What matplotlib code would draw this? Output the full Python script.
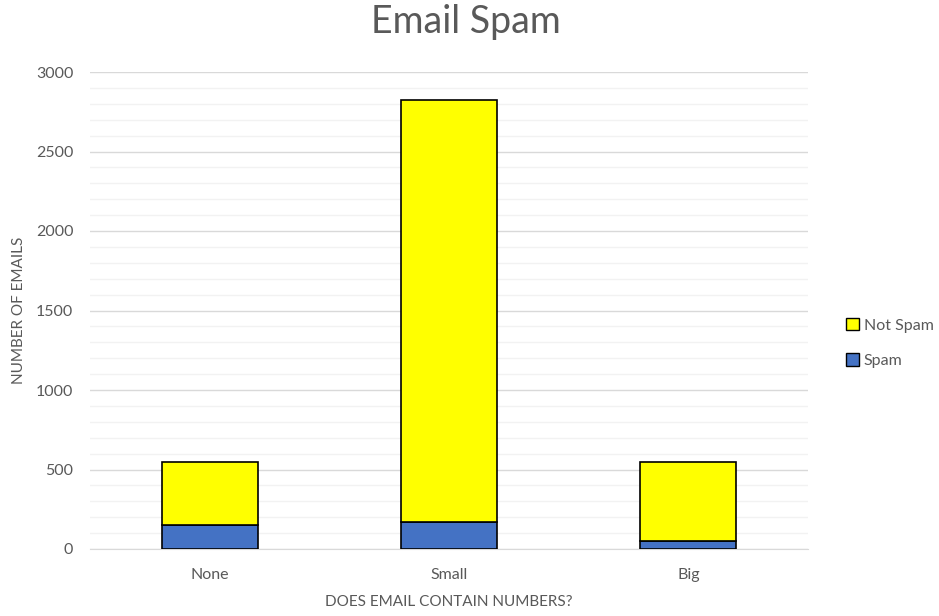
import matplotlib
matplotlib.use("Agg")
import matplotlib.pyplot as plt
from matplotlib.patches import Patch
import numpy as np

plt.rcParams['font.family'] = ['Lato', 'DejaVu Sans']

categories = ["None", "Small", "Big"]
spam = [149, 168, 50]
not_spam = [400, 2659, 495]
yticks = [0, 500, 1000, 1500, 2000, 2500, 3000]

fig = plt.figure(figsize=(9.39, 6.16), dpi=100)
ax = fig.add_axes([90/939, 1-549/616, (808-90)/939, (549-72)/616])

x = np.arange(len(categories))
w = 0.4
ax.bar(x, spam, width=w, color="#4472C4", edgecolor="black", linewidth=1.2, zorder=3, label="Spam")
ax.bar(x, not_spam, width=w, bottom=spam, color="#FFFF00", edgecolor="black", linewidth=1.2, zorder=3, label="Not Spam")

ax.set_xlim(-0.5, 2.5)
ax.set_ylim(0, 3000)
ax.set_yticks(yticks)
ax.set_yticks(np.arange(0, 3001, 100), minor=True)
ax.yaxis.grid(True, which="major", color="#D9D9D9", linewidth=1.0, zorder=0)
ax.yaxis.grid(True, which="minor", color="#F2F2F2", linewidth=1.0, zorder=0)
ax.set_xticks(x)
ax.set_xticklabels(categories)
ax.tick_params(axis="both", which="both", length=0, labelsize=11.5, labelcolor="#595959")
ax.tick_params(axis="x", pad=14)
ax.tick_params(axis="y", pad=12)
for s in ["top", "right", "left"]:
    ax.spines[s].set_visible(False)
ax.spines["bottom"].set_color("#D9D9D9")

ax.set_xlabel("DOES EMAIL CONTAIN NUMBERS?", fontsize=11, color="#595959", labelpad=9)
ax.set_ylabel("NUMBER OF EMAILS", fontsize=11, color="#595959", labelpad=7)
fig.text(466/939, 1-22/616, "Email Spam", ha="center", va="center", fontsize=27,
         color="#595959")

handles = [Patch(facecolor="#FFFF00", edgecolor="black", label="Not Spam"),
           Patch(facecolor="#4472C4", edgecolor="black", label="Spam")]
leg = fig.legend(handles=handles, loc="center left", bbox_to_anchor=(832/939, 1-343/616),
                 frameon=False, fontsize=11.5, handlelength=0.8, handleheight=0.8,
                 handletextpad=0.3, labelspacing=1.3)
for t in leg.get_texts():
    t.set_color("#595959")

fig.savefig("out.png", dpi=100)
